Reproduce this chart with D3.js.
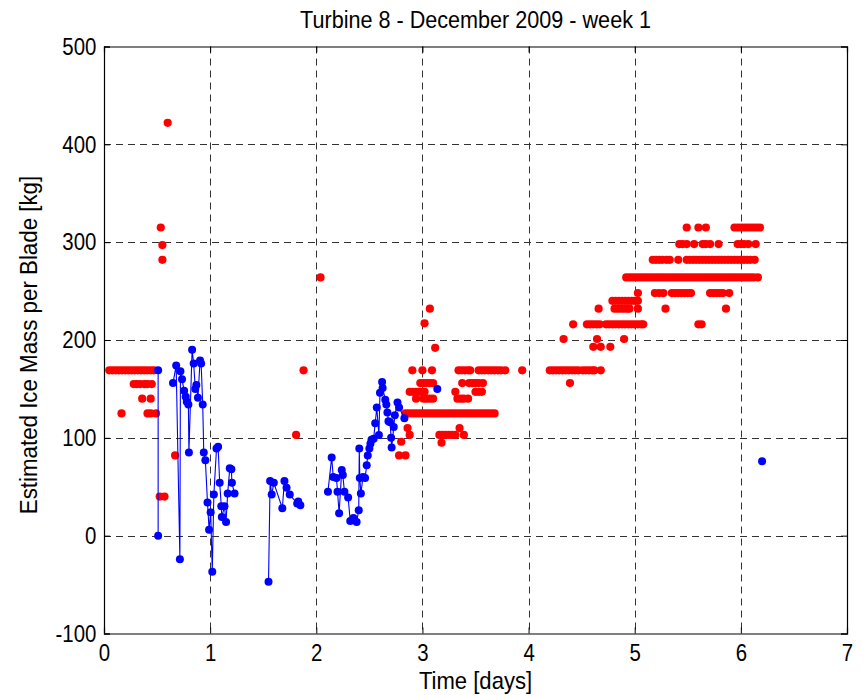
<!DOCTYPE html>
<html>
<head>
<meta charset="utf-8">
<script src="https://cdn.jsdelivr.net/npm/d3@7"></script>
<style>
  body { margin: 0; background: #fff; }
  text { font-family: "Liberation Sans", Arial, sans-serif; fill: #000; }
</style>
</head>
<body>
<div id="chart"></div>
<script>
// x ticks / y ticks
const xTicks = [0, 1, 2, 3, 4, 5, 6, 7];
const yTicks = [-100, 0, 100, 200, 300, 400, 500];

// red markers [day, kg]
const redPoints = [
  [0.05,169],[0.08,169],[0.11,169],[0.14,169],[0.17,169],[0.20,169],[0.23,169],[0.26,169],
  [0.29,169],[0.32,169],[0.35,169],[0.38,169],[0.41,169],[0.44,169],[0.47,169],
  [0.28,155],[0.31,155],[0.34,155],[0.38,155],[0.41,155],[0.45,155],
  [0.36,140],[0.44,140],
  [0.165,125],[0.41,125],[0.44,125],[0.49,125],
  [0.67,82],[0.525,40],[0.57,40],[0.60,422],[0.535,315],[0.55,297],[0.55,282],
  [1.81,103],[1.88,169],[2.04,264],
  [2.78,82],[2.84,82],[2.80,96],[2.86,110],[2.88,103],
  [2.84,125],[2.87,125],[2.90,125],[2.93,125],[2.96,125],[2.99,125],[3.02,125],[3.05,125],
  [3.08,125],[3.11,125],[3.14,125],[3.17,125],[3.20,125],[3.23,125],[3.26,125],[3.29,125],
  [3.32,125],[3.35,125],[3.38,125],[3.41,125],[3.44,125],[3.47,125],[3.50,125],[3.53,125],
  [3.56,125],[3.59,125],[3.62,125],[3.65,125],[3.68,125],
  [2.94,140],[3.01,140],[3.04,140],[3.07,140],[3.10,140],[3.33,140],[3.36,140],[3.39,140],[3.43,140],
  [2.88,147],[2.91,147],[2.94,147],[2.97,147],[3.00,147],[3.02,147],[3.31,147],[3.50,147],[3.53,147],[3.56,147],
  [2.98,156],[3.01,156],[3.04,156],[3.07,156],[3.10,156],[3.375,156],[3.44,156],[3.47,156],[3.50,156],[3.53,156],[3.57,156],
  [2.905,169],[3.0,169],[3.09,169],[3.34,169],[3.37,169],[3.40,169],[3.43,169],[3.45,169],
  [3.53,169],[3.56,169],[3.59,169],[3.62,169],[3.65,169],[3.68,169],[3.71,169],[3.74,169],[3.78,169],[3.94,169],
  [3.35,110],
  [3.16,103],[3.19,103],[3.22,103],[3.25,103],[3.28,103],[3.31,103],[3.39,103],
  [3.18,95],[3.07,232],[3.02,217],[3.12,192],
  [4.20,169],[4.23,169],[4.26,169],[4.29,169],[4.32,169],[4.35,169],[4.38,169],[4.41,169],[4.44,169],[4.47,169],
  [4.51,169],[4.54,169],[4.57,169],[4.60,169],[4.62,169],[4.68,169],
  [4.39,156],[4.33,201],[4.645,201],[4.90,201],
  [4.61,193],[4.68,193],[4.77,193],
  [4.42,216],[4.55,216],[4.58,216],[4.61,216],[4.64,216],[4.67,216],[4.73,216],[4.76,216],[4.79,216],
  [4.82,216],[4.85,216],[4.88,216],[4.91,216],[4.94,216],[4.97,216],[5.00,216],[5.03,216],[5.06,216],
  [5.08,216],[5.60,216],[5.63,216],
  [4.66,232],[4.81,232],[4.84,232],[4.87,232],[4.90,232],[4.93,232],[4.95,232],[5.03,232],[5.29,232],[5.86,232],
  [4.79,240],[4.82,240],[4.85,240],[4.88,240],[4.91,240],[4.94,240],[4.97,240],[5.00,240],[5.03,240],
  [5.03,248],[5.19,248],[5.23,248],[5.27,248],[5.35,248],[5.38,248],[5.41,248],[5.44,248],[5.47,248],
  [5.50,248],[5.53,248],[5.71,248],[5.74,248],[5.77,248],[5.80,248],[5.83,248],[5.89,248],
  [4.92,264],[4.95,264],[4.98,264],[5.01,264],[5.04,264],[5.07,264],[5.10,264],[5.13,264],[5.16,264],
  [5.19,264],[5.22,264],[5.25,264],[5.28,264],[5.31,264],[5.34,264],[5.37,264],[5.40,264],[5.43,264],
  [5.46,264],[5.49,264],[5.52,264],[5.55,264],[5.58,264],[5.61,264],[5.64,264],[5.67,264],[5.70,264],
  [5.73,264],[5.76,264],[5.79,264],[5.82,264],[5.85,264],[5.88,264],[5.91,264],[5.94,264],[5.97,264],
  [6.00,264],[6.03,264],[6.06,264],[6.09,264],[6.12,264],[6.16,264],
  [5.17,282],[5.20,282],[5.23,282],[5.26,282],[5.30,282],[5.33,282],[5.41,282],
  [5.49,282],[5.52,282],[5.55,282],[5.58,282],[5.61,282],[5.64,282],[5.67,282],[5.70,282],[5.73,282],
  [5.76,282],[5.79,282],[5.82,282],[5.85,282],[5.88,282],[5.91,282],[5.94,282],[5.97,282],[6.00,282],
  [6.03,282],[6.06,282],[6.09,282],[6.13,282],
  [5.42,298],[5.45,298],[5.49,298],[5.56,298],[5.64,298],[5.67,298],[5.71,298],[5.79,298],
  [5.97,298],[6.00,298],[6.03,298],[6.07,298],[6.14,298],
  [5.49,315],[5.60,315],[5.67,315],[5.94,315],[5.97,315],[6.00,315],[6.03,315],[6.06,315],
  [6.09,315],[6.12,315],[6.15,315],[6.18,315]
];

// blue line + markers [day, kg], null = gap in the line
const bluePoints = [
  [0.51,169],[0.51,0],
  null,
  [0.65,156],[0.68,174],[0.715,-24],[0.72,168],[0.735,160],[0.755,148],[0.77,142],[0.78,137],
  [0.795,134],[0.80,85],[0.83,190],[0.845,176],[0.86,150],[0.87,154],[0.885,141],[0.905,179],
  [0.915,176],[0.93,134],[0.94,85],[0.955,77],[0.975,34],[0.99,6],[1.005,24],[1.02,-37],
  [1.035,42],[1.06,89],[1.075,91],[1.09,54],[1.105,30],[1.11,19],[1.135,30],[1.15,14],
  [1.165,43],[1.185,69],[1.2,68],[1.205,54],[1.23,43],
  null,
  [1.55,-47],[1.565,56],[1.58,42],[1.60,54],[1.68,28],[1.70,56],[1.72,49],[1.75,42],
  [1.82,33],[1.83,35],[1.85,31],
  null,
  [2.11,45],[2.145,80],[2.16,60],[2.19,59],[2.20,45],[2.215,23],[2.24,67],[2.25,62],[2.265,45],
  [2.30,39],[2.32,15],[2.35,18],[2.38,14],[2.40,26],[2.405,89],[2.41,59],[2.42,43],[2.44,60],
  [2.46,59],[2.475,72],[2.485,82],[2.50,89],[2.51,94],[2.52,98],[2.54,99],[2.555,115],[2.57,131],
  [2.59,103],[2.60,146],[2.62,157],[2.625,151],[2.65,139],[2.66,134],[2.67,126],[2.68,117],
  [2.695,116],[2.705,100],[2.71,90],[2.73,111],[2.74,123],[2.765,136],[2.78,131],[2.83,120],
  null,
  [3.14,150],
  null,
  [6.2,76]
];

const W = 863, H = 695;
const margin = {top: 46.5, right: 16, bottom: 61.5, left: 104};

const svg = d3.select("#chart").append("svg")
  .attr("width", W)
  .attr("height", H);

const x = d3.scaleLinear().domain([0, 7]).range([margin.left, W - margin.right]);
const y = d3.scaleLinear().domain([-100, 500]).range([H - margin.bottom, margin.top]);

// dashed grid
const grid = svg.append("g").attr("class", "grid")
  .attr("stroke", "#333")
  .attr("stroke-width", 1)
  .attr("stroke-dasharray", "7,5");
grid.selectAll(".gx").data(xTicks.slice(1, -1)).join("line")
  .attr("x1", d => Math.round(x(d)) + 0.5).attr("x2", d => Math.round(x(d)) + 0.5)
  .attr("y1", y(500)).attr("y2", y(-100));
grid.selectAll(".gy").data(yTicks.slice(1, -1)).join("line")
  .attr("y1", d => Math.round(y(d)) + 0.5).attr("y2", d => Math.round(y(d)) + 0.5)
  .attr("x1", x(0)).attr("x2", x(7));

// red scatter
svg.append("g").selectAll("circle").data(redPoints).join("circle")
  .attr("cx", d => x(d[0]))
  .attr("cy", d => y(d[1]))
  .attr("r", 4.1)
  .attr("fill", "#ff0000");

// blue line with markers
const line = d3.line()
  .defined(d => d !== null)
  .x(d => x(d[0]))
  .y(d => y(d[1]));

svg.append("path")
  .datum(bluePoints)
  .attr("fill", "none")
  .attr("stroke", "#0000ff")
  .attr("stroke-width", 1.1)
  .attr("d", line);

svg.append("g").selectAll("circle").data(bluePoints.filter(d => d !== null)).join("circle")
  .attr("cx", d => x(d[0]))
  .attr("cy", d => y(d[1]))
  .attr("r", 4)
  .attr("fill", "#0000ff");

// axes: inward ticks on all four sides
const tickLen = 6;
const plainFmt = d => String(d);   // plain hyphen for negatives, like the original
svg.append("g")
  .attr("transform", `translate(0,${y(-100)})`)
  .call(d3.axisBottom(x).tickValues(xTicks).tickSize(-tickLen).tickPadding(10).tickFormat(plainFmt));
svg.append("g")
  .attr("transform", `translate(0,${y(500)})`)
  .call(d3.axisTop(x).tickValues(xTicks).tickSize(-tickLen).tickFormat(""));
svg.append("g")
  .attr("transform", `translate(${x(0)},0)`)
  .call(d3.axisLeft(y).tickValues(yTicks).tickSize(-tickLen).tickPadding(9).tickFormat(plainFmt));
svg.append("g")
  .attr("transform", `translate(${x(7)},0)`)
  .call(d3.axisRight(y).tickValues(yTicks).tickSize(-tickLen).tickFormat(""));

svg.selectAll(".domain").attr("stroke", "#000").attr("stroke-width", 1.2);
svg.selectAll(".tick line").attr("stroke", "#000");
// the reference font is tall and narrow, so squeeze it horizontally
svg.selectAll(".tick text")
  .attr("transform", "scale(0.85,1)")
  .style("font-size", "24px")
  .style("font-family", "'Liberation Sans', Arial, sans-serif");

// labels
svg.append("text")
  .attr("transform", `translate(${(x(0) + x(7)) / 2},28) scale(0.9,1)`)
  .attr("text-anchor", "middle")
  .style("font-size", "24px")
  .text("Turbine 8 - December 2009 - week 1");

svg.append("text")
  .attr("transform", `translate(${(x(0) + x(7)) / 2},689) scale(0.92,1)`)
  .attr("text-anchor", "middle")
  .style("font-size", "24px")
  .text("Time [days]");

svg.append("text")
  .attr("transform", `translate(37,${(y(500) + y(-100)) / 2 + 5}) rotate(-90) scale(0.93,1)`)
  .attr("text-anchor", "middle")
  .style("font-size", "24px")
  .text("Estimated Ice Mass per Blade [kg]");
</script>
</body>
</html>
